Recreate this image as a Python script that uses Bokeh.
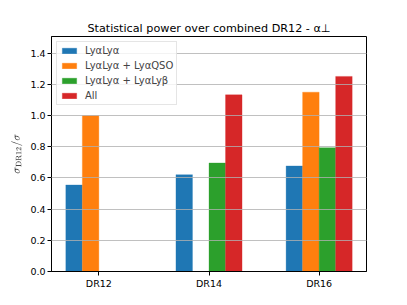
import math
from bokeh.plotting import figure
from bokeh.models import Range1d, FixedTicker, ColumnDataSource, Legend, LegendItem
from bokeh.embed import file_html
from bokeh.resources import INLINE

categories = ["DR12", "DR14", "DR16"]
series_names = ["LyαLyα", "LyαLyα + LyαQSO", "LyαLyα + LyαLyβ", "All"]
lya_lya = [0.555, 0.621, 0.677]
lya_qso = [1.0, float("nan"), 1.15]
lya_lyb = [float("nan"), 0.696, 0.794]
all_comb = [float("nan"), 1.133, 1.251]
colors = ["#1f77b4", "#ff7f0e", "#2ca02c", "#d62728"]
y_ticks = [0.0, 0.2, 0.4, 0.6, 0.8, 1.0, 1.2, 1.4]

series = [lya_lya, lya_qso, lya_lyb, all_comb]
bar_w = 0.15

p = figure(width=391, height=297, output_backend="svg", toolbar_location=None,
           x_range=Range1d(-0.43, 2.43), y_range=Range1d(0, 1.507),
           min_border_left=51, min_border_right=25, min_border_top=36, min_border_bottom=26,
           title="Statistical power over combined DR12 - α⊥")
p.title.align = "center"
p.title.text_font = "DejaVu Sans"
p.title.text_font_size = "11.2px"
p.title.text_font_style = "normal"
p.title.text_color = "black"
p.title.offset = 0
p.title.standoff = 4

items = []
for i, (vals, name, col) in enumerate(zip(series, series_names, colors)):
    xs = [k + (i - 1.5) * bar_w for k, v in enumerate(vals) if not math.isnan(v)]
    ys = [v for v in vals if not math.isnan(v)]
    src = ColumnDataSource(dict(x=xs, top=ys))
    r = p.vbar(x="x", top="top", width=bar_w, bottom=0, source=src,
               fill_color=col, line_color=col, line_alpha=0.6, line_width=0.5)
    items.append(LegendItem(label=name, renderers=[r]))

legend = Legend(items=items, location="top_left")
legend.label_text_font = "DejaVu Sans"
legend.label_text_font_size = "10px"
legend.glyph_width = 18
legend.glyph_height = 7
legend.label_height = 10
legend.label_standoff = 7
legend.spacing = 4
legend.padding = 3
legend.margin = 5
legend.border_line_color = "#cccccc"
legend.background_fill_alpha = 0.8
p.add_layout(legend)

p.xgrid.visible = False
p.ygrid.ticker = FixedTicker(ticks=y_ticks)
p.ygrid.grid_line_color = "#b0b0b0"
p.ygrid.grid_line_alpha = 0.8
p.ygrid.grid_line_width = 1
p.ygrid.level = "overlay"

p.xaxis.ticker = FixedTicker(ticks=[0, 1, 2])
p.xaxis.major_label_overrides = {0: categories[0], 1: categories[1], 2: categories[2]}
p.yaxis.ticker = FixedTicker(ticks=y_ticks)
p.yaxis.major_label_overrides = {t: f"{t:.1f}" for t in y_ticks}
p.yaxis.axis_label = r"$$\sigma_{\mathrm{DR12}}/\sigma$$"
p.yaxis.axis_label_text_font_size = "9.5px"
p.yaxis.axis_label_standoff = 5

for ax in (p.xaxis[0], p.yaxis[0]):
    ax.major_label_text_font = "DejaVu Sans"
    ax.major_label_text_font_size = "9.5px"
    ax.major_label_text_color = "black"
    ax.major_tick_out = 4
    ax.major_tick_in = 0
    ax.minor_tick_line_color = None
    ax.axis_line_color = "black"
    ax.major_tick_line_color = "black"
    ax.major_label_standoff = 2

p.outline_line_color = "black"
p.outline_line_width = 1
p.outline_line_alpha = 1

open("out.html", "w").write(file_html(p, INLINE))
